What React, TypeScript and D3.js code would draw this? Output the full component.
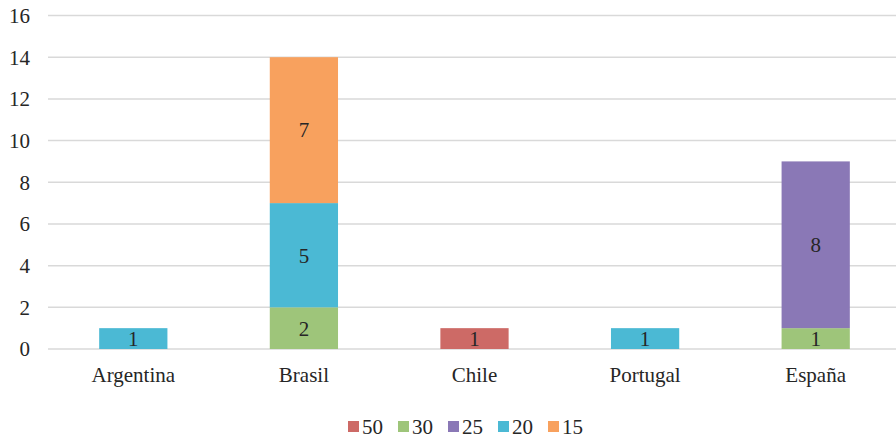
import React, { useEffect, useRef } from 'react';
import * as d3 from 'd3';

const categories = ['Argentina', 'Brasil', 'Chile', 'Portugal', 'España'];
const seriesNames = ['50', '30', '25', '20', '15'];
const values50 = [0, 0, 1, 0, 0];
const values30 = [0, 2, 0, 0, 1];
const values25 = [0, 0, 0, 0, 8];
const values20 = [1, 5, 0, 1, 0];
const values15 = [0, 7, 0, 0, 0];
const yTicks = [0, 2, 4, 6, 8, 10, 12, 14, 16];
const colors = ['#CD6A66', '#9EC57A', '#8A78B6', '#4BB9D4', '#F8A15E'];

const W = 896;
const H = 438;
const FONT = 'Liberation Serif, DejaVu Serif, serif';

export default function App() {
  const ref = useRef<SVGSVGElement>(null);

  useEffect(() => {
    const svg = d3.select(ref.current);
    svg.selectAll('*').remove();

    const allValues = [values50, values30, values25, values20, values15];
    const rows = categories.map((c, i) => {
      const r: any = { cat: c };
      seriesNames.forEach((s, j) => (r[s] = allValues[j][i]));
      return r;
    });
    const stacked = d3.stack().keys(seriesNames)(rows);

    const x = d3.scaleBand().domain(categories).range([48, 901]).paddingInner(0.6).paddingOuter(0.3);
    const y = d3.scaleLinear().domain([0, 16]).range([349, 15.5]);

    const textStyle = (sel: any) =>
      sel.attr('font-family', FONT).attr('font-size', 21).attr('fill', '#262626');

    // gridlines
    svg.append('g')
      .selectAll('line')
      .data(yTicks)
      .enter()
      .append('line')
      .attr('x1', 48)
      .attr('x2', W)
      .attr('y1', d => y(d))
      .attr('y2', d => y(d))
      .attr('stroke', '#D9D9D9')
      .attr('stroke-width', 1.5);

    // y labels
    svg.append('g')
      .selectAll('text')
      .data(yTicks)
      .enter()
      .append('text')
      .attr('x', 30)
      .attr('y', d => y(d))
      .attr('dy', '0.35em')
      .attr('text-anchor', 'end')
      .call(textStyle)
      .text(d => d);

    // bars
    const layers = svg.append('g')
      .selectAll('g')
      .data(stacked)
      .enter()
      .append('g')
      .attr('fill', (d, i) => colors[i]);

    layers.selectAll('rect')
      .data(d => d.filter(p => p[1] - p[0] > 0))
      .enter()
      .append('rect')
      .attr('x', (d: any) => x(d.data.cat)!)
      .attr('width', x.bandwidth())
      .attr('y', d => y(d[1]))
      .attr('height', d => y(d[0]) - y(d[1]));

    layers.selectAll('text')
      .data(d => d.filter(p => p[1] - p[0] > 0))
      .enter()
      .append('text')
      .attr('x', (d: any) => x(d.data.cat)! + x.bandwidth() / 2)
      .attr('y', d => (y(d[0]) + y(d[1])) / 2)
      .attr('dy', '0.35em')
      .attr('text-anchor', 'middle')
      .call(textStyle)
      .text(d => d[1] - d[0]);

    // x labels
    svg.append('g')
      .selectAll('text')
      .data(categories)
      .enter()
      .append('text')
      .attr('x', d => x(d)! + x.bandwidth() / 2)
      .attr('y', 382)
      .attr('text-anchor', 'middle')
      .call(textStyle)
      .text(d => d);

    // legend
    const legend = svg.append('g')
      .selectAll('g')
      .data(seriesNames)
      .enter()
      .append('g')
      .attr('transform', (d, i) => `translate(${348 + i * 50},0)`);
    legend.append('rect')
      .attr('x', 0)
      .attr('y', 421)
      .attr('width', 11)
      .attr('height', 11)
      .attr('fill', (d, i) => colors[i]);
    legend.append('text')
      .attr('x', 14)
      .attr('y', 434)
      .call(textStyle)
      .text(d => d);
  }, []);

  return (
    <svg
      ref={ref}
      width={W}
      height={H}
      style={{ position: 'absolute', left: 0, top: 0, background: '#fff' }}
    />
  );
}
